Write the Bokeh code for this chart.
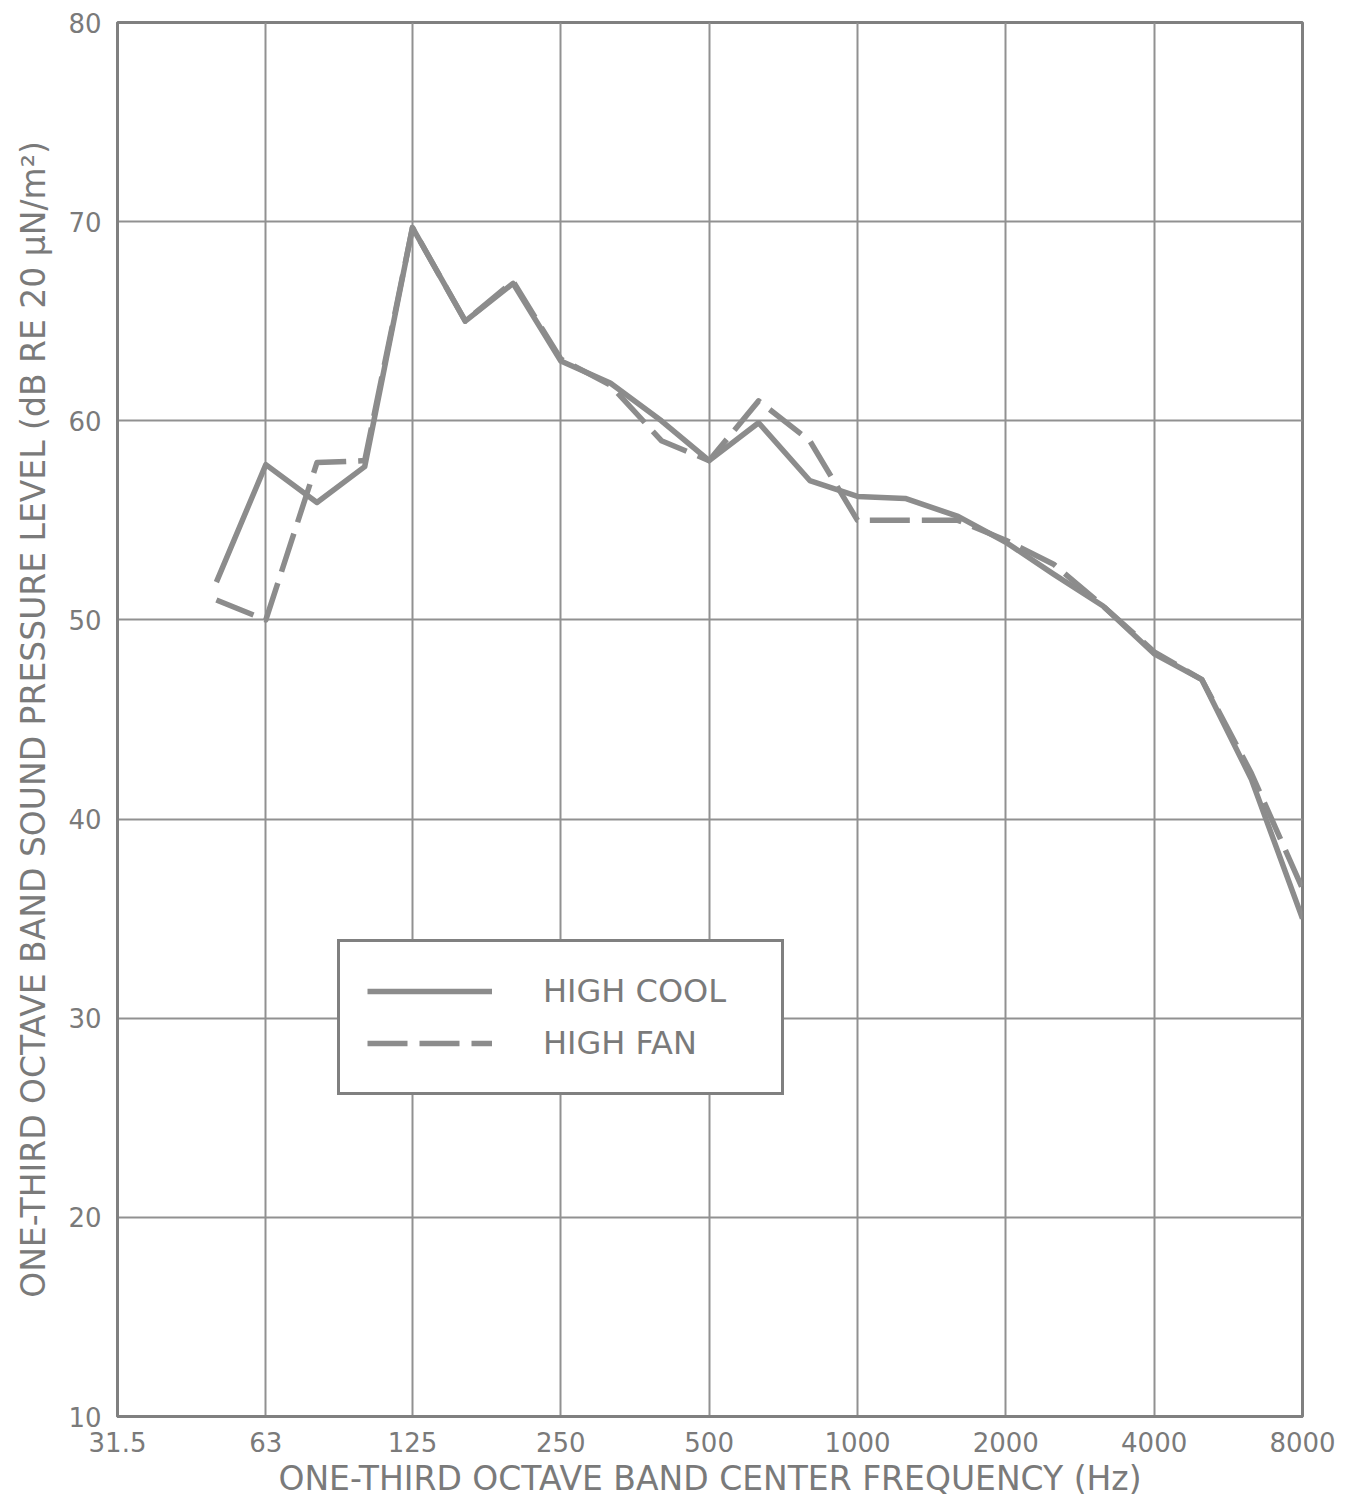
from bokeh.plotting import figure
from bokeh.models import (FixedTicker, CustomJSTickFormatter, Legend, LegendItem, Range1d)
from bokeh.embed import file_html
from bokeh.resources import INLINE

# One-third octave band centre frequencies (Hz)
freq = [50, 63, 80, 100, 125, 160, 200, 250, 315, 400, 500, 630, 800,
        1000, 1250, 1600, 2000, 2500, 3150, 4000, 5000, 6300, 8000]
# Sound pressure level (dB re 20 uN/m^2)
high_cool = [51.9, 57.8, 55.9, 57.7, 69.7, 65.0, 66.9, 63.0, 61.9, 60.0, 58.0, 59.9, 57.0,
             56.2, 56.1, 55.2, 53.9, 52.3, 50.7, 48.3, 47.0, 42.0, 35.0]
high_fan = [51.0, 50.0, 57.9, 58.0, 69.7, 65.0, 67.0, 63.1, 61.8, 59.0, 58.0, 61.0, 59.0,
            55.0, 55.0, 55.0, 54.0, 52.8, 50.7, 48.4, 47.0, 42.3, 36.5]

x_ticks = [31.5, 63, 125, 250, 500, 1000, 2000, 4000, 8000]
y_ticks = [10, 20, 30, 40, 50, 60, 70, 80]
series_labels = ["HIGH COOL", "HIGH FAN"]

GREY = "#8c8c8c"
TXT = "#7a7a7a"
FONT = "DejaVu Sans"

p = figure(width=1348, height=1500, x_axis_type="log",
           x_range=Range1d(31.5, 8000), y_range=Range1d(10, 80),
           output_backend="svg", toolbar_location=None,
           min_border_left=117, min_border_right=46, min_border_top=22,
           min_border_bottom=60, background_fill_color="white",
           border_fill_color="white")

p.outline_line_color = "#808080"
p.outline_line_width = 3

p.xaxis.ticker = FixedTicker(ticks=x_ticks, minor_ticks=[])
p.xaxis.formatter = CustomJSTickFormatter(code="return tick.toString();")
p.yaxis.ticker = FixedTicker(ticks=y_ticks, minor_ticks=[])

for ax in (p.xaxis[0], p.yaxis[0]):
    ax.axis_line_color = "#808080"
    ax.axis_line_width = 3
    ax.major_tick_line_color = None
    ax.minor_tick_line_color = None
    ax.major_label_text_color = TXT
    ax.major_label_text_font = FONT
    ax.major_label_text_font_size = "26px"
    ax.axis_label_text_color = TXT
    ax.axis_label_text_font = FONT
    ax.axis_label_text_font_size = "33px"
    ax.axis_label_text_font_style = "normal"

p.xaxis.major_label_standoff = 9
p.yaxis.major_label_standoff = 10
p.xaxis.axis_label_standoff = 4
p.yaxis.axis_label_standoff = 12
p.xaxis.axis_label = "ONE-THIRD OCTAVE BAND CENTER FREQUENCY (Hz)"
p.yaxis.axis_label = "ONE-THIRD OCTAVE BAND SOUND PRESSURE LEVEL (dB RE 20 \u03bcN/m\u00b2)"

p.xgrid.grid_line_color = "#919191"
p.xgrid.grid_line_width = 2
p.ygrid.grid_line_color = "#919191"
p.ygrid.grid_line_width = 2

r_cool = p.line(freq, high_cool, line_color=GREY, line_width=5.5, line_join="round")
r_fan = p.line(freq, high_fan, line_color=GREY, line_width=5.5, line_dash="40 12",
               line_join="round")

legend = Legend(items=[LegendItem(label=series_labels[0], renderers=[r_cool]),
                       LegendItem(label=series_labels[1], renderers=[r_fan])],
                location=(220, 321))
legend.border_line_color = "#808080"
legend.border_line_alpha = 1.0
legend.border_line_width = 3
legend.background_fill_color = "white"
legend.background_fill_alpha = 1.0
legend.glyph_width = 125
legend.glyph_height = 44
legend.label_height = 44
legend.label_standoff = 51
legend.label_width = 211
legend.padding = 27
legend.spacing = 8
legend.margin = 0
legend.label_text_font = FONT
legend.label_text_font_size = "32px"
legend.label_text_color = TXT
p.add_layout(legend)

open("out.html", "w").write(file_html(p, INLINE))
